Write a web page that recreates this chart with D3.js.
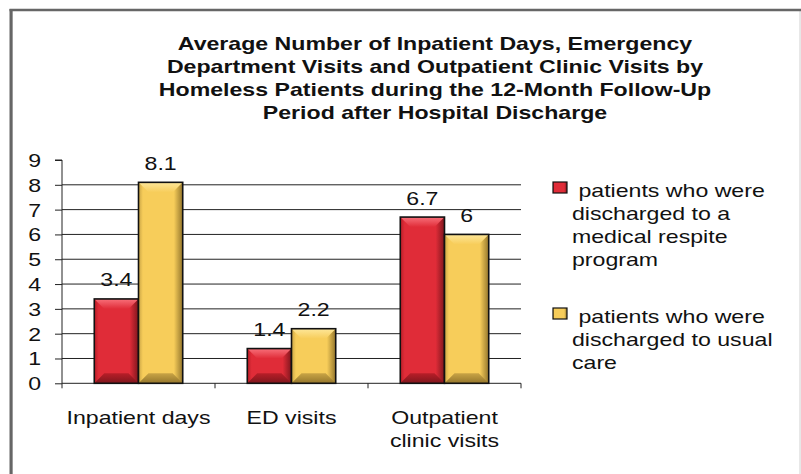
<!DOCTYPE html>
<html>
<head>
<meta charset="utf-8">
<script src="https://cdn.jsdelivr.net/npm/d3@7"></script>
<style>
  body { margin: 0; background: #fff; }
  svg { display: block; font-family: "Liberation Sans", Arial, sans-serif; }
</style>
</head>
<body>
<svg width="801" height="474"></svg>
<script>
// chart data
const categories = ["Inpatient days", "ED visits", "Outpatient clinic visits"];
const categoryLines = [["Inpatient days"], ["ED visits"], ["Outpatient", "clinic visits"]];
const seriesKeys = ["respite", "usual"];
const respiteValues = [3.4, 1.4, 6.7];
const usualValues = [8.1, 2.2, 6];
const yTickValues = [0, 1, 2, 3, 4, 5, 6, 7, 8, 9];
const titleLines = [
    "Average Number of Inpatient Days, Emergency",
    "Department Visits and Outpatient Clinic Visits by",
    "Homeless Patients during the 12-Month Follow-Up",
    "Period after Hospital Discharge"
];
const legendLines = [
    [" patients who were", "discharged to a", "medical respite", "program"],
    [" patients who were", "discharged to usual", "care"]
];

const SX = 1.25; // the picture is stretched wide, so text is too
const fs = 18.5;

const svg = d3.select("svg");
const defs = svg.append("defs");

const palette = {
    respite: { main: "#e02c38", light: "#f8707a", side: "#b81e28", dark: "#7e161d" },
    usual: { main: "#f7cd5a", light: "#fee79a", side: "#c9a445", dark: "#94762c" }
};

seriesKeys.forEach(k => {
    const c = palette[k];
    const g = defs.append("linearGradient").attr("id", "body-" + k)
        .attr("x1", 0).attr("x2", 1).attr("y1", 0).attr("y2", 0);
    g.append("stop").attr("offset", "0%").attr("stop-color", c.side);
    g.append("stop").attr("offset", "10%").attr("stop-color", c.main);
    g.append("stop").attr("offset", "80%").attr("stop-color", c.main);
    g.append("stop").attr("offset", "100%").attr("stop-color", c.dark);
    const t = defs.append("linearGradient").attr("id", "top-" + k)
        .attr("x1", 0).attr("x2", 0).attr("y1", 0).attr("y2", 1);
    t.append("stop").attr("offset", "0%").attr("stop-color", c.light);
    t.append("stop").attr("offset", "100%").attr("stop-color", c.main);
    const b = defs.append("linearGradient").attr("id", "bot-" + k)
        .attr("x1", 0).attr("x2", 0).attr("y1", 0).attr("y2", 1);
    b.append("stop").attr("offset", "0%").attr("stop-color", c.side);
    b.append("stop").attr("offset", "100%").attr("stop-color", c.dark);
});

// frame
svg.append("rect").attr("x", 12.5).attr("y", 10.5).attr("width", 787.5).attr("height", 480)
    .attr("fill", "none").attr("stroke", "#d0d0d0");
svg.append("line").attr("x1", 11).attr("x2", 11).attr("y1", 9).attr("y2", 474)
    .attr("stroke", "#666").attr("stroke-width", 3);
svg.append("line").attr("x1", 9.5).attr("x2", 801).attr("y1", 10).attr("y2", 10)
    .attr("stroke", "#666").attr("stroke-width", 2.5);

// title
svg.append("g").selectAll("text")
    .data(titleLines)
    .enter().append("text")
    .attr("transform", (d, i) => `translate(435,${49.5 + i * 23}) scale(${SX},1)`)
    .attr("text-anchor", "middle")
    .attr("font-size", fs)
    .attr("font-weight", "bold")
    .attr("fill", "#111")
    .text(d => d);

// scales
const x = d3.scaleBand().domain(categories).range([62, 521]).padding(0);
const xSub = d3.scaleBand().domain(seriesKeys).range([0, x.bandwidth()]).paddingOuter(0.73).paddingInner(0);
const y = d3.scaleLinear().domain([0, 9]).range([383.3, 160]);

// gridlines
svg.append("g").selectAll("line")
    .data(yTickValues.filter(v => v > 0 && v < 9))
    .enter().append("line")
    .attr("x1", 62).attr("x2", 521)
    .attr("y1", d => y(d)).attr("y2", d => y(d))
    .attr("stroke", "#222").attr("stroke-width", 1);

// y axis
const yAxis = svg.append("g")
    .attr("transform", "translate(62,0)")
    .call(d3.axisLeft(y).tickValues(yTickValues).tickSize(7).tickFormat(d3.format("d")));
yAxis.select(".domain").attr("stroke", "#222").attr("d", `M-7,${y(9)}H0V${y(0)}`);
yAxis.selectAll(".tick line").attr("stroke", "#222");
yAxis.selectAll(".tick text")
    .attr("x", 0).attr("dy", null)
    .attr("transform", `translate(-21,6.5) scale(${SX},1)`)
    .attr("font-size", fs).attr("font-family", "Liberation Sans, Arial, sans-serif")
    .attr("fill", "#111");

// x axis line with ticks at category edges
const xEdges = categories.map(c => x(c)).concat([x(categories[2]) + x.bandwidth()]);
svg.append("line").attr("x1", 62).attr("x2", 521).attr("y1", y(0)).attr("y2", y(0))
    .attr("stroke", "#222");
svg.append("g").selectAll("line")
    .data(xEdges)
    .enter().append("line")
    .attr("x1", d => d).attr("x2", d => d)
    .attr("y1", y(0)).attr("y2", y(0) + 5)
    .attr("stroke", "#222");

// category labels
categories.forEach((c, i) => {
    svg.append("g").selectAll("text")
        .data(categoryLines[i])
        .enter().append("text")
        .attr("transform", (d, j) => `translate(${x(c) + x.bandwidth() / 2},${424 + j * 23}) scale(${SX},1)`)
        .attr("text-anchor", "middle")
        .attr("font-size", fs)
        .attr("fill", "#111")
        .text(d => d);
});

// bars
const bars = [];
categories.forEach((c, i) => {
    bars.push({ cat: c, key: "respite", value: respiteValues[i] });
    bars.push({ cat: c, key: "usual", value: usualValues[i] });
});

const bev = 10;
const barG = svg.append("g").selectAll("g")
    .data(bars)
    .enter().append("g");

barG.each(function(d) {
    const g = d3.select(this);
    const bx = x(d.cat) + xSub(d.key);
    const bw = xSub.bandwidth();
    const by = y(d.value);
    const bh = y(0) - by;
    g.append("rect").attr("x", bx).attr("y", by).attr("width", bw).attr("height", bh)
        .attr("fill", `url(#body-${d.key})`);
    g.append("polygon")
        .attr("points", [[bx, by], [bx + bw, by], [bx + bw - bev, by + bev], [bx + bev, by + bev]].join(" "))
        .attr("fill", `url(#top-${d.key})`);
    g.append("polygon")
        .attr("points", [[bx, by + bh], [bx + bw, by + bh], [bx + bw - bev, by + bh - bev], [bx + bev, by + bh - bev]].join(" "))
        .attr("fill", `url(#bot-${d.key})`);
    g.append("rect").attr("x", bx).attr("y", by).attr("width", bw).attr("height", bh)
        .attr("fill", "none").attr("stroke", "#111").attr("stroke-width", 1.6);
    g.append("text")
        .attr("transform", `translate(${bx + bw / 2},${by - 12.5}) scale(${SX},1)`)
        .attr("text-anchor", "middle")
        .attr("font-size", fs)
        .attr("fill", "#111")
        .text(d.value);
});

// legend
const legendY = [182, 308];
seriesKeys.forEach((k, i) => {
    svg.append("rect")
        .attr("x", 553).attr("y", legendY[i]).attr("width", 14).attr("height", 11)
        .attr("fill", `url(#body-${k})`)
        .attr("stroke", "#111").attr("stroke-width", 1.2);
    svg.append("g").selectAll("text")
        .data(legendLines[i])
        .enter().append("text")
        .attr("transform", (d, j) => `translate(572,${legendY[i] + 14.5 + j * 23.3}) scale(${SX},1)`)
        .attr("font-size", fs)
        .attr("fill", "#111")
        .attr("xml:space", "preserve")
        .style("white-space", "pre")
        .text(d => d);
});
</script>
</body>
</html>
